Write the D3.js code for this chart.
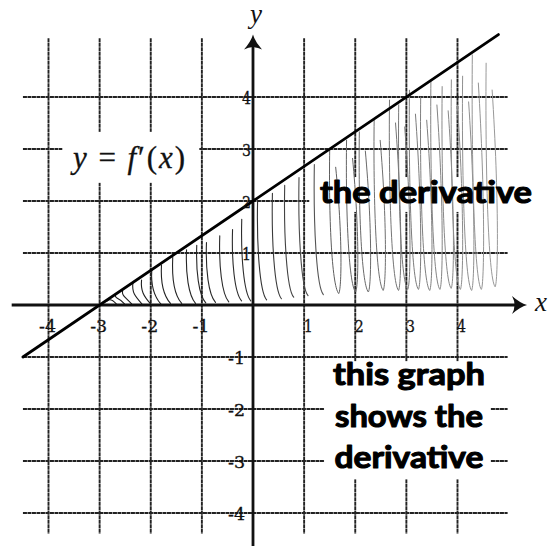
<!DOCTYPE html>
<html>
<head>
<meta charset="utf-8">
<script src="https://cdn.jsdelivr.net/npm/d3@7"></script>
<style>
  html, body { margin: 0; padding: 0; background: #fff; }
  svg { display: block; }
</style>
</head>
<body>
<svg id="chart" width="556" height="546"></svg>
<script>
// Tick values for the grid and the axis labels
const xTicks = [-4, -3, -2, -1, 1, 2, 3, 4];
const yTicks = [-4, -3, -2, -1, 1, 2, 3, 4];
const xTickLabels = ["-4", "-3", "-2", "-1", "1", "2", "3", "4"];
const yTickLabels = ["-4", "-3", "-2", "-1", "1", "2", "3", "4"];

// The graph of f'(x): a straight line, given by its two end points
const lineX = [-4.5, 4.8];
const lineY = [-1, 5.2];

// Pencil shading between the line and the x-axis: stroke positions, tops and bases
const hatchX = [-2.85, -2.69, -2.55, -2.35, -2.18, -1.98, -1.79, -1.57, -1.30, -1.10,
                -0.91, -0.65, -0.40, -0.22, 0.09, 0.38, 0.62, 0.90, 1.20, 1.50,
                1.83, 2.08, 2.37, 2.67, 2.85, 3.06, 3.28, 3.48, 3.70, 3.88,
                4.10, 4.29, 4.56];
const hatchTop = [0.08, 0.19, 0.29, 0.42, 0.48, 0.67, 0.77, 0.92, 1.06, 1.15,
                  1.20, 1.33, 1.45, 1.65, 2.02, 2.15, 2.30, 2.45, 2.70, 2.98,
                  3.17, 3.33, 3.56, 3.94, 3.85, 4.13, 4.00, 4.33, 4.20, 4.33,
                  4.40, 4.81, 4.65];
const hatchBase = [0.02, 0.02, 0.02, 0.02, 0.02, 0.02, 0.03, 0.03, 0.03, 0.04,
                   0.05, 0.06, 0.08, 0.08, 0.10, 0.12, 0.15, 0.18, 0.20, 0.22,
                   0.25, 0.25, 0.28, 0.28, 0.30, 0.30, 0.28, 0.30, 0.32, 0.30,
                   0.28, 0.30, 0.35];

// Text
const curveLabel = ["y", " = ", "f", "′", "(", "x", ")"];
const noteTop = "the derivative";
const noteBottom = ["this graph", "shows the", "derivative"];

const svg = d3.select("#chart");

const x = d3.scaleLinear().domain([-4, 4]).range([48.5, 457.5]);
const y = d3.scaleLinear().domain([-4, 4]).range([513, 97]);

const gridXExtent = [-4.5, 4.98];
const gridYExtent = [-4.4, 5.13];

// ---- grid ----
const grid = svg.append("g")
  .attr("stroke", "#222")
  .attr("stroke-width", 1.9)
  .attr("stroke-dasharray", "4 0.5");

grid.selectAll("line.v").data(xTicks).join("line")
  .attr("class", "v")
  .attr("x1", d => x(d)).attr("x2", d => x(d))
  .attr("y1", y(gridYExtent[1])).attr("y2", y(gridYExtent[0]));

grid.selectAll("line.h").data(yTicks).join("line")
  .attr("class", "h")
  .attr("y1", d => y(d)).attr("y2", d => y(d))
  .attr("x1", x(gridXExtent[0])).attr("x2", x(gridXExtent[1]));

// clear the grid behind the annotations
const clearBoxes = [
  [-3.73, 3.33, -1.05, 2.35],
  [1.1, 2.46, 5.6, 1.79],
  [1.39, -1.08, 4.65, -3.35]
];
svg.append("g").selectAll("rect").data(clearBoxes).join("rect")
  .attr("x", d => x(d[0]))
  .attr("y", d => y(d[1]))
  .attr("width", d => x(d[2]) - x(d[0]))
  .attr("height", d => y(d[3]) - y(d[1]))
  .attr("fill", "#fff");

// ---- pencil shading ----
const tone = d3.scaleLinear().domain([-3, 0, 1.5, 4.6]).range(["#1a1a1a", "#2e2e2e", "#5e5e5e", "#9a9a9a"]);
const hatch = d3.range(hatchX.length).map(i => ({ x: hatchX[i], top: hatchTop[i], base: hatchBase[i] }));

svg.append("g")
  .attr("fill", "none")
  .attr("stroke-linecap", "round")
  .attr("stroke-linejoin", "round")
  .selectAll("path").data(hatch).join("path")
  .attr("stroke", d => tone(d.x))
  .attr("stroke-width", d => d.x < 1.5 ? 1.1 : 1.0)
  .attr("d", d => {
    const xt = x(d.x), yt = y(d.top), yb = y(d.base);
    const h = yb - yt;
    const p = d3.path();
    p.moveTo(xt, yt);
    p.bezierCurveTo(xt - 1, yt + h * 0.45, xt + 2, yb - 8, xt + 9, yb);
    if (d.x >= 1.5) {
      // looped strokes on the right: turn and climb back up
      p.bezierCurveTo(xt + 12, yb - 4, xt + 13, yt + h * 0.6, xt + 6, yt + h * 0.12);
    }
    return p.toString();
  });

// ---- axes ----
const axisCol = "#111";
svg.append("line")
  .attr("x1", x(-4.72)).attr("x2", x(5.2))
  .attr("y1", y(0)).attr("y2", y(0))
  .attr("stroke", axisCol).attr("stroke-width", 2.8);
svg.append("line")
  .attr("x1", x(0)).attr("x2", x(0))
  .attr("y1", y(-4.8)).attr("y2", y(5.1))
  .attr("stroke", axisCol).attr("stroke-width", 2.8);

const arrowPath = "M0,0 Q-7,-2 -15,-9 Q-10,0 -15,9 Q-7,2 0,0 Z";
svg.append("path")
  .attr("d", arrowPath)
  .attr("transform", `translate(${x(5.36)},${y(0)})`)
  .attr("fill", axisCol);
svg.append("path")
  .attr("d", arrowPath)
  .attr("transform", `translate(${x(0)},${y(5.2)}) rotate(-90)`)
  .attr("fill", axisCol);

// ---- the line y = f'(x) ----
svg.append("line")
  .attr("x1", x(lineX[0])).attr("y1", y(lineY[0]))
  .attr("x2", x(lineX[1])).attr("y2", y(lineY[1]))
  .attr("stroke", "#000").attr("stroke-width", 2.8)
  .attr("stroke-linecap", "round");

// ---- tick labels ----
const serif = "'DejaVu Serif', 'Liberation Serif', serif";
const mathSerif = "'Liberation Serif', 'DejaVu Serif', serif";
svg.append("g").selectAll("text").data(xTicks).join("text")
  .attr("x", d => x(d) + (d > 0 ? 4 : -1))
  .attr("y", y(0) + 27)
  .attr("text-anchor", "middle")
  .attr("font-family", serif).attr("font-size", 17).attr("fill", "#111")
  .attr("stroke", "#111").attr("stroke-width", 0.3)
  .attr("textLength", d => d > 0 ? 9 : 17).attr("lengthAdjust", "spacingAndGlyphs")
  .text((d, i) => xTickLabels[i]);

svg.append("g").selectAll("text").data(yTicks).join("text")
  .attr("x", d => x(0) - (d > 0 ? 2 : 8))
  .attr("y", d => y(d) + 6.5)
  .attr("text-anchor", "end")
  .attr("font-family", serif).attr("font-size", 17).attr("fill", "#111")
  .attr("stroke", "#111").attr("stroke-width", 0.3)
  .attr("textLength", d => d > 0 ? 9 : 17).attr("lengthAdjust", "spacingAndGlyphs")
  .text((d, i) => yTickLabels[i]);

// axis names
svg.append("text")
  .attr("x", x(0) + 3).attr("y", 23)
  .attr("text-anchor", "middle")
  .attr("font-family", mathSerif).attr("font-style", "italic").attr("font-size", 27)
  .attr("fill", "#111").text("y");
svg.append("text")
  .attr("x", 541).attr("y", 311)
  .attr("text-anchor", "middle")
  .attr("font-family", mathSerif).attr("font-style", "italic").attr("font-size", 27)
  .attr("fill", "#111").text("x");

// ---- label of the line ----
const eq = svg.append("text")
  .attr("x", x(-3.52)).attr("y", y(2.63))
  .attr("font-family", mathSerif).attr("font-size", 31).attr("fill", "#111")
  .attr("stroke", "#111").attr("stroke-width", 0.3)
  .attr("textLength", 112).attr("lengthAdjust", "spacing")
  .attr("xml:space", "preserve");
curveLabel.forEach(s => {
  eq.append("tspan")
    .attr("font-style", (s === "y" || s === "f" || s === "x") ? "italic" : "normal")
    .text(s);
});

// ---- notes ----
const sans = "'Lato', 'Open Sans', 'Noto Sans', sans-serif";
svg.append("text")
  .attr("x", 320).attr("y", 203)
  .attr("font-family", sans).attr("font-weight", 700).attr("font-size", 31)
  .attr("stroke", "#000").attr("stroke-width", 1.1).attr("stroke-linejoin", "round")
  .attr("textLength", 212).attr("lengthAdjust", "spacingAndGlyphs")
  .attr("fill", "#000").text(noteTop);

const bottomWidths = [152, 148, 149];
svg.append("g").selectAll("text").data(noteBottom).join("text")
  .attr("x", 409)
  .attr("y", (d, i) => 385 + i * 41.5)
  .attr("text-anchor", "middle")
  .attr("font-family", sans).attr("font-weight", 700).attr("font-size", 31)
  .attr("stroke", "#000").attr("stroke-width", 1.1).attr("stroke-linejoin", "round")
  .attr("textLength", (d, i) => bottomWidths[i]).attr("lengthAdjust", "spacingAndGlyphs")
  .attr("fill", "#000").text(d => d);
</script>
</body>
</html>
